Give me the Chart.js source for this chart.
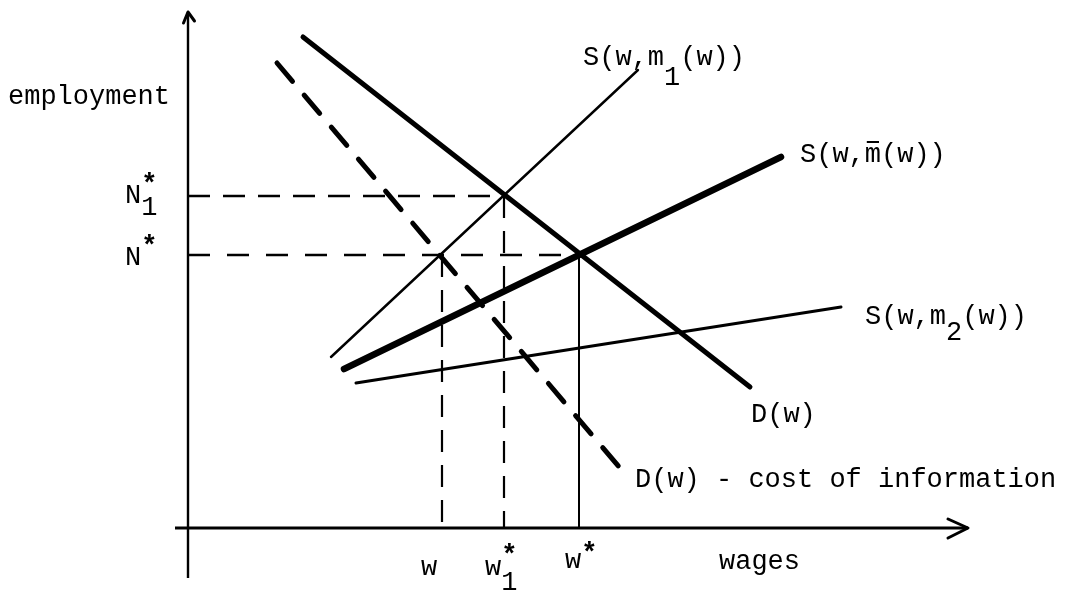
<!DOCTYPE html>
<html>
<head>
<meta charset="utf-8">
<script src="https://cdn.jsdelivr.net/npm/chart.js@4/dist/chart.umd.min.js"></script>
<style>
  html, body { margin: 0; padding: 0; background: #fff; }
  #wrap { width: 1069px; height: 593px; }
</style>
</head>
<body>
<div id="wrap"><canvas id="c" width="1069" height="593"></canvas></div>
<script>
// ---------- DATA (wages on x, employment on y; origin = axes intersection) ----------
const demandW = [11.5, 56.2];          // D(w)
const demandN = [49.1, 14.1];
const demandCostW = [8.9, 43.2];       // D(w) - cost of information
const demandCostN = [46.5, 6.0];
const supply1W = [14.3, 45.0];         // S(w, m1(w))
const supply1N = [17.1, 45.8];
const supplyBarW = [15.6, 59.3];       // S(w, m̄(w))
const supplyBarN = [15.9, 37.1];
const supply2W = [16.8, 65.3];         // S(w, m2(w))
const supply2N = [14.5, 22.1];

const wageLevels = [25.4, 31.6, 39.1];       // w, w1*, w*
const employmentLevels = [33.2, 27.3];       // N1*, N*

const xTickLabels = ["w", "w^*_1", "w^*"];
const yTickLabels = ["N^*_1", "N^*"];
const curveLabels = ["S(w,m_1(w))", "S(w,~m(w))", "S(w,m_2(w))", "D(w)", "D(w) - cost of information"];
const axisTitles = ["employment", "wages"];

// axis extents (data units)
const xAxisFrom = -1.3, xAxisTo = 78.0;
const yAxisFrom = -5.0, yAxisTo = 51.6;

// ---------- helpers ----------
function seg(ws, ns) { return ws.map((w, i) => ({ x: w, y: ns[i] })); }
function line(data, width, extra) {
  return Object.assign({
    data: data, showLine: true, borderColor: '#000', backgroundColor: '#000',
    borderWidth: width, pointRadius: 0, pointHoverRadius: 0, fill: false, tension: 0,
    borderCapStyle: 'round', borderJoinStyle: 'round'
  }, extra || {});
}

const refDash = [22, 13];
const datasets = [
  line(seg(demandW, demandN), 5),
  line(seg(demandCostW, demandCostN), 5, { borderDash: [24, 18] }),
  line(seg(supply1W, supply1N), 2.4),
  line(seg(supplyBarW, supplyBarN), 6.5),
  line(seg(supply2W, supply2N), 3),
  // reference lines
  line([{ x: 0, y: employmentLevels[0] }, { x: wageLevels[1], y: employmentLevels[0] }], 2.4, { borderDash: refDash, borderCapStyle: 'butt' }),
  line([{ x: 0, y: employmentLevels[1] }, { x: wageLevels[2], y: employmentLevels[1] }], 2.4, { borderDash: [22, 17], borderCapStyle: 'butt' }),
  line([{ x: wageLevels[0], y: employmentLevels[1] }, { x: wageLevels[0], y: 0 }], 2.2, { borderDash: refDash, borderCapStyle: 'butt' }),
  line([{ x: wageLevels[1], y: employmentLevels[0] }, { x: wageLevels[1], y: 0 }], 2.2, { borderDash: refDash, borderCapStyle: 'butt' }),
  line([{ x: wageLevels[2], y: employmentLevels[1] }, { x: wageLevels[2], y: 0 }], 2, { borderCapStyle: 'butt' }),
  // axes
  line([{ x: xAxisFrom, y: 0 }, { x: xAxisTo, y: 0 }], 3, { borderCapStyle: 'butt' }),
  line([{ x: 0, y: yAxisFrom }, { x: 0, y: yAxisTo }], 2.4, { borderCapStyle: 'butt' }),
  // arrow heads
  line([{ x: xAxisTo - 2.0, y: 0.9 }, { x: xAxisTo, y: 0 }, { x: xAxisTo - 2.0, y: -1.0 }], 3),
  line([{ x: -0.45, y: yAxisTo - 1.1 }, { x: 0, y: yAxisTo }, { x: 0.65, y: yAxisTo - 0.9 }], 3)
];

// ---------- text layout (pixels) ----------
const FONT = "'Liberation Mono', 'Courier New', 'DejaVu Sans Mono', monospace";
const FS = 27;
const ADV = FS * 0.6;
const labelLayout = {
  yTicks: [ { x: 125, y: 203, sup: -11, sub: 12 }, { x: 125, y: 265, sup: -11 } ],
  xTicks: [ { x: 421, y: 575 }, { x: 485, y: 575, sup: -12, sub: 15 }, { x: 565, y: 568, sup: -7 } ],
  curves: [ { x: 583, y: 65, sub: 20 }, { x: 800, y: 162, bar: -20 }, { x: 865, y: 324, sub: 16 },
            { x: 751, y: 422 }, { x: 635, y: 487 } ],
  titles: [ { x: 8, y: 104 }, { x: 719, y: 569 } ]
};

function drawMarkup(ctx, text, L) {
  let cell = 0, lastWasSup = false;
  ctx.textBaseline = 'alphabetic';
  ctx.textAlign = 'left';
  for (let i = 0; i < text.length; i++) {
    let ch = text[i];
    let dy = 0, bold = false, bar = false, shareCell = false;
    if (ch === '^') { ch = text[++i]; dy = L.sup || -10; bold = true; lastWasSup = true; }
    else if (ch === '_') { ch = text[++i]; dy = L.sub || 14; if (lastWasSup) shareCell = true; lastWasSup = false; }
    else if (ch === '~') { ch = text[++i]; bar = true; lastWasSup = false; }
    else { lastWasSup = false; }
    if (shareCell) cell--;
    const x = L.x + cell * ADV;
    ctx.font = (bold ? 'bold ' : '') + FS + 'px ' + FONT;
    ctx.fillText(ch, x, L.y + dy);
    if (bar) {
      ctx.save();
      ctx.lineWidth = 2;
      ctx.beginPath();
      ctx.moveTo(x + 2, L.y + L.bar);
      ctx.lineTo(x + ADV - 2, L.y + L.bar);
      ctx.strokeStyle = '#000';
      ctx.stroke();
      ctx.restore();
    }
    cell++;
  }
}

const textPlugin = {
  id: 'diagramText',
  afterDatasetsDraw(chart) {
    const ctx = chart.ctx;
    ctx.save();
    ctx.fillStyle = '#000';
    yTickLabels.forEach((t, i) => drawMarkup(ctx, t, labelLayout.yTicks[i]));
    xTickLabels.forEach((t, i) => drawMarkup(ctx, t, labelLayout.xTicks[i]));
    curveLabels.forEach((t, i) => drawMarkup(ctx, t, labelLayout.curves[i]));
    axisTitles.forEach((t, i) => drawMarkup(ctx, t, labelLayout.titles[i]));
    ctx.restore();
  }
};

// data ranges chosen so that the whole canvas is the plotting area
new Chart(document.getElementById('c'), {
  type: 'scatter',
  data: { datasets: datasets },
  options: {
    responsive: false,
    animation: false,
    layout: { padding: 0 },
    plugins: { legend: { display: false }, tooltip: { enabled: false }, title: { display: false } },
    events: [],
    scales: {
      x: { type: 'linear', min: -18.8, max: 88.1, display: false },
      y: { type: 'linear', min: -6.5, max: 52.8, display: false }
    }
  },
  plugins: [textPlugin]
});
</script>
</body>
</html>
